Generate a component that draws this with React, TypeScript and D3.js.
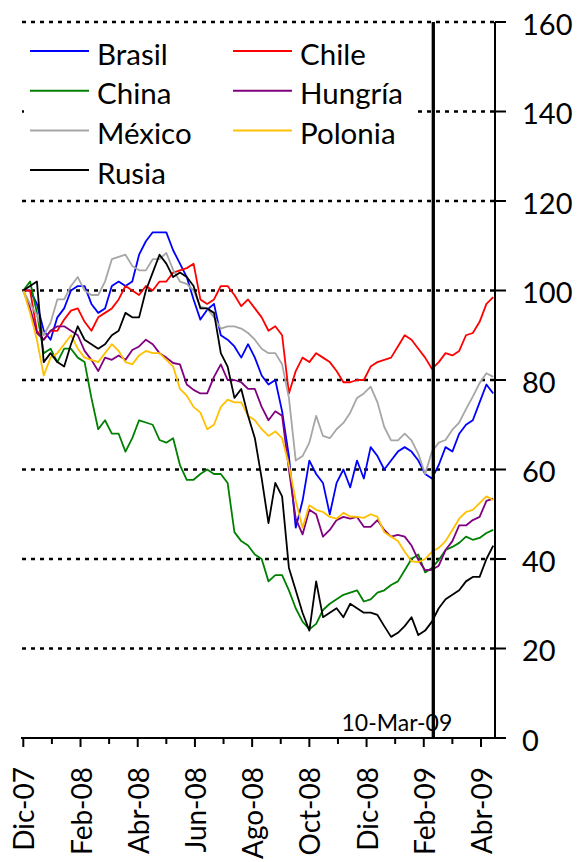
import { useEffect, useRef } from "react";
import * as d3 from "d3";

// one reading per trading week (5 trading days), starting 31-Dic-07
const dayStep = 5;
const lastDay = 346;

const seriesNames = ["Brasil", "Chile", "China", "Hungría", "México", "Polonia", "Rusia"];
const seriesColors = ["#0000FF", "#FF0000", "#008000", "#800080", "#A6A6A6", "#FFC000", "#000000"];

const brasil = [100, 100, 97, 91, 89, 94, 96, 100, 101, 101, 97, 95, 96, 101, 102, 101, 102, 108, 111, 113, 113, 113, 109, 106, 103, 98, 93.5, 95.7, 97, 90, 89, 87.5, 85, 88, 85, 81, 79, 80, 73, 63, 47, 53, 62, 59, 57, 50, 57, 60, 56, 62, 58, 65, 63, 60, 62, 64, 65, 64, 62, 59, 58, 61, 65, 64, 68, 70, 71, 75, 79, 77];
const chile = [100, 100, 91, 89, 91, 91, 93.5, 95.5, 96, 93, 91, 94, 95, 96, 98, 101, 100, 99, 101, 100, 102, 102, 104, 104.5, 105, 106, 98, 97, 98, 101, 101, 99, 96.5, 98, 96, 94, 91, 92, 90, 77, 82, 85, 84, 86, 85, 84, 82, 79.5, 79.5, 80, 80, 83, 84, 84.5, 85, 87.5, 90, 89, 87, 85, 82.5, 84, 86, 85.5, 86.5, 90, 90.5, 93, 97, 98.5];
const china = [100, 102, 95, 86, 87, 84, 87, 87, 85, 84, 76, 69, 71, 68, 68, 64, 67, 71, 70.5, 70, 66.6, 66, 67, 61, 57.7, 57.7, 59, 60, 59, 59, 57, 46, 44, 43, 41, 40, 35, 36.4, 36.4, 33, 29, 26, 24.3, 25.5, 28.6, 30, 31, 32, 32.5, 33, 30.5, 31, 32.5, 33, 34.2, 35, 37.5, 40, 41, 37, 38, 39.8, 42, 42.7, 43.6, 45, 44.3, 44.7, 45.8, 46.5];
const hungria = [100, 96, 90.5, 89, 91, 92, 92, 91, 90, 86.5, 84.5, 82, 85, 84.5, 85.5, 84.5, 86.7, 87.5, 89, 88, 86, 85, 83.8, 83.5, 79, 77.8, 77, 77, 80.7, 83.5, 80, 80, 79.5, 78, 78, 74, 71, 73, 72, 60, 49, 45.5, 51, 50, 45, 46.5, 48.7, 49.4, 49, 49.4, 47.2, 47.2, 48.7, 46.5, 45, 45.4, 45, 43, 39.8, 37.5, 37.6, 38.5, 42, 44, 47.5, 47.5, 48.7, 49.4, 53, 53.5];
const mexico = [100, 97, 94.6, 90, 92.8, 98, 98, 101, 103, 100, 99, 99, 102, 107, 107.5, 108, 105.5, 104.5, 104.5, 107, 107, 108.4, 104.6, 102, 101.5, 100, 96.4, 96, 94, 91.5, 92, 92, 91.5, 90.5, 89, 87, 86, 86, 83.5, 76, 62, 63, 66, 72, 67.5, 67, 69, 70.4, 72.7, 76, 77, 78.5, 75, 69.5, 66.5, 66.5, 68, 66.5, 63.5, 59, 64, 66, 66.6, 68.9, 70.5, 73.5, 76.3, 79.3, 81.5, 80.7];
const polonia = [100, 95, 89, 81, 85, 86, 88, 90, 87, 85, 84.5, 84, 86, 88, 86.5, 84, 83.5, 85.5, 86.5, 86, 86, 84.5, 83, 78, 76.5, 74, 72.7, 69, 70, 74, 75.6, 75, 75, 72, 71, 69, 67.5, 68.5, 67, 61, 53, 47, 52, 51, 50.5, 49.4, 49, 50.3, 49.5, 49.4, 49.2, 50, 49.4, 46, 45, 44, 41.6, 39.5, 39.3, 40, 41.6, 42.5, 44, 46.5, 49, 50.5, 51, 52.5, 54, 53.2];
const rusia = [100, 101, 102, 84, 86, 84, 83, 88, 92, 89, 88, 87, 88, 90, 91, 95, 94, 94, 100, 104, 108, 106, 103, 104, 103, 101, 96, 96, 95, 86, 83, 76, 78, 72, 67, 58, 48, 57, 54, 38, 33, 28, 24, 35, 27, 28, 29, 27, 30, 29, 28, 28, 27.5, 25, 22.6, 23.5, 25, 27, 23, 24, 26, 29, 31, 32, 33, 35, 36, 36, 40, 43];

const tickLabels = ["Dic-07", "Feb-08", "Abr-08", "Jun-08", "Ago-08", "Oct-08", "Dic-08", "Feb-09", "Abr-09"];
const yTicks = [0, 20, 40, 60, 80, 100, 120, 140, 160];
const markerDay = 301;
const markerLabel = "10-Mar-09";

const font = "Lato, 'Open Sans', sans-serif";

export default function App() {
  const ref = useRef<SVGSVGElement>(null);

  useEffect(() => {
    const svg = d3.select(ref.current);
    svg.selectAll("*").remove();

    const x = d3.scaleLinear().domain([0, lastDay]).range([23.3, 494.6]);
    const y = d3.scaleLinear().domain([0, 160]).range([738, 22]);
    const right = 495;

    // gridlines
    svg.append("g")
      .selectAll("line")
      .data(yTicks.filter(d => d > 0))
      .join("line")
      .attr("x1", 22).attr("x2", right)
      .attr("y1", d => y(d)).attr("y2", d => y(d))
      .attr("stroke", "#000").attr("stroke-width", 2.5)
      .attr("stroke-dasharray", "4,5");

    // legend background hides part of the grid
    svg.append("rect")
      .attr("x", 24).attr("y", 30).attr("width", 394).attr("height", 162)
      .attr("fill", "#fff");

    const all = [brasil, chile, china, hungria, mexico, polonia, rusia];
    const line = d3.line<number>()
      .x((_, i) => x(i * dayStep))
      .y(d => y(d));

    all.forEach((vals, i) => {
      svg.append("path")
        .datum(vals)
        .attr("d", line)
        .attr("fill", "none")
        .attr("stroke", seriesColors[i])
        .attr("stroke-width", 1.8)
        .attr("stroke-linejoin", "round");
    });

    // 10-Mar-09 marker
    svg.append("line")
      .attr("x1", x(markerDay)).attr("x2", x(markerDay))
      .attr("y1", y(160)).attr("y2", y(0))
      .attr("stroke", "#000").attr("stroke-width", 3.3);
    svg.append("text")
      .attr("x", x(markerDay) + 19).attr("y", 731)
      .attr("text-anchor", "end")
      .attr("font-family", font).attr("font-size", 23)
      .text(markerLabel);

    // x axis
    const xg = svg.append("g").attr("transform", `translate(0, ${y(0)})`);
    xg.append("line")
      .attr("x1", 21).attr("x2", 506)
      .attr("stroke", "#000").attr("stroke-width", 2);
    const tickDays = d3.range(0, lastDay, 21);
    xg.selectAll("line.tick")
      .data(tickDays)
      .join("line")
      .attr("class", "tick")
      .attr("x1", d => x(d)).attr("x2", d => x(d))
      .attr("y1", 0).attr("y2", (_, i) => (i % 2 === 0 ? 9 : 6))
      .attr("stroke", "#000").attr("stroke-width", 2);
    xg.selectAll("text")
      .data(tickLabels)
      .join("text")
      .attr("transform", (_, i) => `translate(${x(i * 42)}, 29) rotate(-90)`)
      .attr("text-anchor", "end")
      .attr("dominant-baseline", "central")
      .attr("font-family", font).attr("font-size", 28)
      .text(d => d);

    // right y axis
    const yg = svg.append("g");
    yg.append("line")
      .attr("x1", right).attr("x2", right)
      .attr("y1", y(160)).attr("y2", y(0))
      .attr("stroke", "#000").attr("stroke-width", 2);
    yg.selectAll("line.tick")
      .data(yTicks)
      .join("line")
      .attr("class", "tick")
      .attr("x1", right).attr("x2", right + 11)
      .attr("y1", d => y(d)).attr("y2", d => y(d))
      .attr("stroke", "#000").attr("stroke-width", 2);
    yg.selectAll("text")
      .data(yTicks)
      .join("text")
      .attr("x", 522)
      .attr("y", d => y(d) + 1)
      .attr("dominant-baseline", "central")
      .attr("font-family", font).attr("font-size", 29)
      .text(d => d);

    // legend
    const lg = svg.append("g");
    seriesNames.forEach((name, i) => {
      const col = i % 2;
      const row = Math.floor(i / 2);
      const lx = col === 0 ? 30 : 233;
      const ly = 51 + row * 39.7;
      lg.append("line")
        .attr("x1", lx).attr("x2", lx + 59)
        .attr("y1", ly).attr("y2", ly)
        .attr("stroke", seriesColors[i]).attr("stroke-width", 2);
      lg.append("text")
        .attr("x", lx + 67).attr("y", ly + 2)
        .attr("dominant-baseline", "central")
        .attr("font-family", font).attr("font-size", 29.5)
        .text(name);
    });
  }, []);

  return (
    <svg
      ref={ref}
      width={577}
      height={862}
      style={{ position: "absolute", left: 0, top: 0, background: "#fff" }}
    />
  );
}
